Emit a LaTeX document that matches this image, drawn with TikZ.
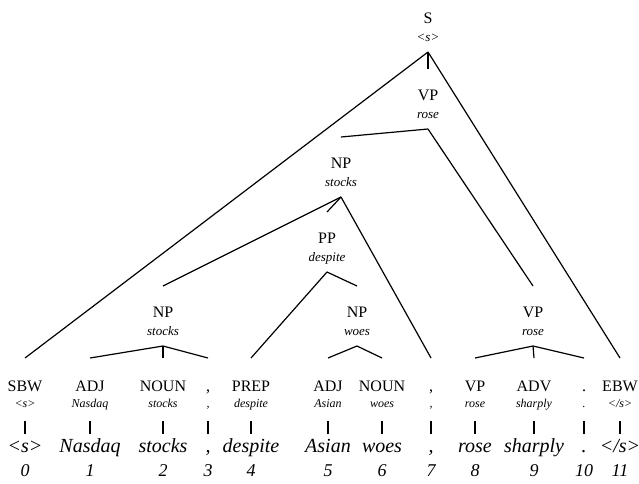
\documentclass[tikz,border=0pt]{standalone}
\usepackage{fontspec}
\setmainfont{Liberation Serif}
\begin{document}
\begin{tikzpicture}[x=1pt,y=-1pt,
  cat/.style={font=\fontsize{16}{16}\selectfont, anchor=base, inner sep=0pt},
  hw/.style={font=\fontsize{12}{12}\selectfont\itshape, anchor=base, inner sep=0pt},
  thw/.style={font=\fontsize{13}{13}\selectfont\itshape, anchor=base, inner sep=0pt},
  word/.style={font=\fontsize{20}{20}\selectfont\itshape, anchor=base, inner sep=0pt},
  idx/.style={font=\fontsize{18}{18}\selectfont\itshape, anchor=base, inner sep=0pt},
  edge/.style={line width=1.2pt},
  bar/.style={line width=1.1pt}]
\useasboundingbox (0,0) rectangle (639,483);

% a leaf column: category, head word, bar, word, position index
\newcommand\leafcol[6]{%
  \node[cat]  (#1c) at (#2,391) {#3};
  \node[hw]   (#1h) at (#2,407) {#4};
  \coordinate (#1b) at (#2,421);
  \coordinate (#1e) at (#2,434);
  \draw[bar] (#1b) -- (#1e);
  \node[word] (#1w) at (#2,452) {#5};
  \node[idx]  (#1i) at (#2,476) {#6};
  \coordinate (#1t) at (#2,358);}

% an inner tree node: category, head word, apex below, attach point above
\newcommand\treenode[5]{%
  \node[cat] (#1c) at (#2,#3) {#4};
  \node[thw] (#1h) at (#2,#3+18) {#5};
  \coordinate (#1a) at (#2,#3+29);
  \coordinate (#1t) at (#2,#3-31);}

\leafcol{sbw}{25}{SBW}{<s>}{<s>}{0}
\leafcol{adja}{90}{ADJ}{Nasdaq}{Nasdaq}{1}
\leafcol{nouna}{163}{NOUN}{stocks}{stocks}{2}
\leafcol{cma}{208}{,}{,}{,}{3}
\leafcol{prep}{251}{PREP}{despite}{despite}{4}
\leafcol{adjb}{328}{ADJ}{Asian}{Asian}{5}
\leafcol{nounb}{382}{NOUN}{woes}{woes}{6}
\leafcol{cmb}{431}{,}{,}{,}{7}
\leafcol{vpl}{475}{VP}{rose}{rose}{8}
\leafcol{adv}{534}{ADV}{sharply}{sharply}{9}
\leafcol{prd}{584}{.}{.}{.}{10}
\leafcol{ebw}{620}{EBW}{</s>}{</s>}{11}

\treenode{s}{428}{23}{S}{<s>}
\treenode{vpt}{428}{100}{VP}{rose}
\treenode{nps}{341}{168}{NP}{stocks}
\treenode{pp}{327}{243}{PP}{despite}
\treenode{npw}{357}{317}{NP}{woes}
\treenode{npl}{163}{317}{NP}{stocks}
\treenode{vpr}{533}{317}{VP}{rose}

\draw[edge] (sa) -- (sbwt);
\draw[edge] (sa) -- (vptt);
\draw[edge] (sa) -- (ebwt);
\draw[edge] (vpta) -- (npst);
\draw[edge] (vpta) -- (vprt);
\draw[edge] (npsa) -- (nplt);
\draw[edge] (npsa) -- (ppt);
\draw[edge] (npsa) -- (cmbt);
\draw[edge] (ppa) -- (prept);
\draw[edge] (ppa) -- (npwt);
\draw[edge] (npwa) -- (adjbt);
\draw[edge] (npwa) -- (nounbt);
\draw[edge] (npla) -- (adjat);
\draw[edge] (npla) -- (nounat);
\draw[edge] (npla) -- (cmat);
\draw[edge] (vpra) -- (vplt);
\draw[edge] (vpra) -- (advt);
\draw[edge] (vpra) -- (prdt);
\end{tikzpicture}
\end{document}
